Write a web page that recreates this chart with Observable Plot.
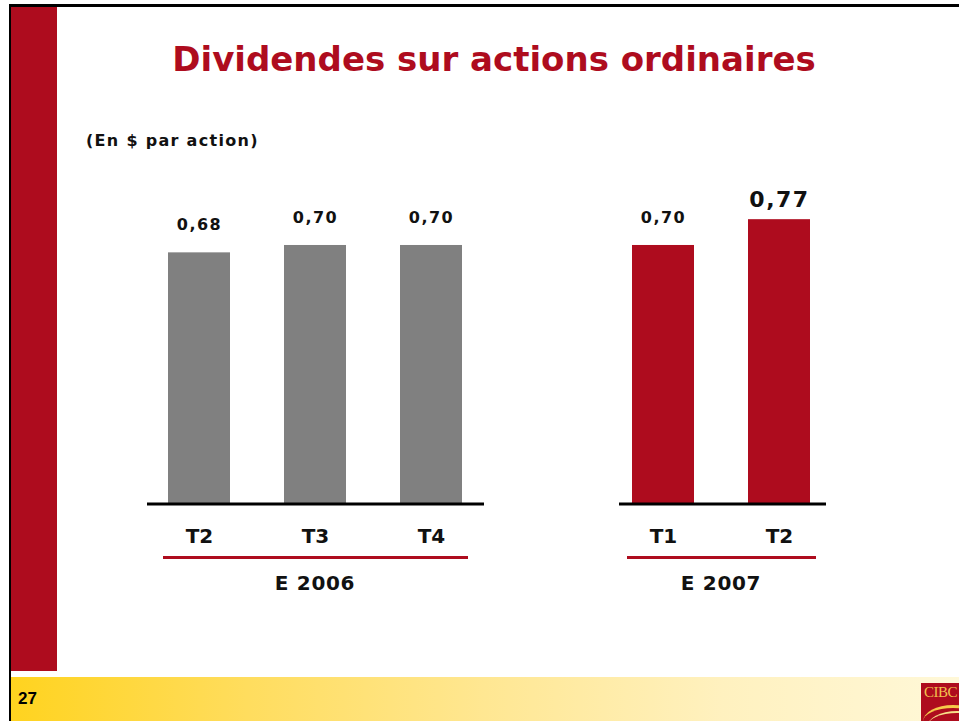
<!DOCTYPE html>
<html>
<head>
<meta charset="utf-8">
<script src="https://cdn.jsdelivr.net/npm/d3@7"></script>
<script src="https://cdn.jsdelivr.net/npm/@observablehq/plot@0.6"></script>
<style>
html, body { margin: 0; padding: 0; background: #fff; }
body { width: 959px; height: 721px; position: relative; overflow: hidden; font-family: "DejaVu Sans", Verdana, sans-serif; }
#topline { position: absolute; left: 9px; top: 4px; width: 950px; height: 3px; background: #000; }
#leftline { position: absolute; left: 9px; top: 4px; width: 2px; height: 717px; background: #000; }
#redbar { position: absolute; left: 11px; top: 7px; width: 46px; height: 664px; background: #AE0C1E; }
#footer { position: absolute; left: 11px; top: 677px; width: 948px; height: 44px;
  background: linear-gradient(90deg, #FFD31F 0%, #FFDD5E 25%, #FFE792 50%, #FFF1BF 75%, #FFF8D8 100%); }
#pagenum { position: absolute; left: 18px; top: 690px; font: bold 17px "Liberation Sans", Arial, sans-serif; color: #000; line-height: 17px; }
#logo { position: absolute; left: 921px; top: 683px; width: 44px; height: 38px; background: #AE0C1E; overflow: hidden; }
#logo span { position: absolute; left: 3px; top: 1px; font: 15px "Liberation Serif", serif; color: #F2C14E; letter-spacing: -0.5px; }
#logo .sw1 { position: absolute; left: 2px; top: 22px; width: 60px; height: 30px; border-top: 3px solid #F6C94A; border-radius: 50% 50% 0 0; }
#logo .sw2 { position: absolute; left: 6px; top: 28px; width: 60px; height: 30px; border-top: 2px solid #F8E08A; border-radius: 50% 50% 0 0; }
#title { position: absolute; left: 0; top: 42px; width: 988px; text-align: center; font: bold 34px/34px "DejaVu Sans", Verdana, sans-serif; color: #AE0C1E; }
#subtitle { position: absolute; left: 86px; top: 133px; font: bold 16px/16px "DejaVu Sans", Verdana, sans-serif; color: #111; letter-spacing: 1.3px; }
#chart { position: absolute; left: 0; top: 160px; }
</style>
</head>
<body>
<div id="topline"></div>
<div id="leftline"></div>
<div id="redbar"></div>
<div id="footer"></div>
<div id="pagenum">27</div>
<div id="logo"><span>CIBC</span><div class="sw1"></div><div class="sw2"></div></div>
<div id="title">Dividendes sur actions ordinaires</div>
<div id="subtitle">(En $ par action)</div>
<div id="chart"></div>
<script>
// ---- data ----
const quarters = ["T2", "T3", "T4", "T1", "T2"];
const fiscalYears = ["E 2006", "E 2006", "E 2006", "E 2007", "E 2007"];
const dividends = [0.68, 0.70, 0.70, 0.70, 0.77];
const yearLabels = ["E 2006", "E 2007"];
const yearColors = ["#808080", "#AE0C1E"];

// ---- derived tables ----
const rows = dividends.map((v, i) => ({
  key: fiscalYears[i] + "|" + quarters[i],
  quarter: quarters[i],
  year: fiscalYears[i],
  value: v
}));
const domain = [];
yearLabels.forEach((y, j) => {
  if (j > 0) domain.push("gap" + j);
  rows.filter(r => r.year === y).forEach(r => domain.push(r.key));
});
const groups = yearLabels.map(y => {
  const rs = rows.filter(r => r.year === y);
  return {year: y, first: rs[0].key, last: rs[rs.length - 1].key};
});
const quarterOf = new Map(rows.map(r => [r.key, r.quarter]));
const fmt = v => v.toFixed(2).replace(".", ",");
const latest = rows[rows.length - 1];
const red = "#AE0C1E";

// group labels centred under each group, through the x and y scales
function groupLabelMark(index, scales) {
  const x = scales.x, y = scales.y;
  const bw = typeof x.bandwidth === "function" ? x.bandwidth() : (x.bandwidth || 0);
  const g = d3.create("svg:g");
  for (const grp of groups) {
    const cx = (x(grp.first) + x(grp.last) + bw) / 2;
    g.append("text")
      .attr("x", cx)
      .attr("y", y(0) + 87)
      .attr("text-anchor", "middle")
      .attr("font-size", 20)
      .attr("font-weight", "bold")
      .attr("letter-spacing", "0.7px")
      .attr("fill", "#111")
      .text(grp.year);
  }
  return g.node();
}

const plot = Plot.plot({
  width: 959,
  height: 450,
  marginTop: 0,
  marginLeft: 0,
  marginRight: 0,
  marginBottom: 107,
  style: {fontFamily: "DejaVu Sans, Verdana, sans-serif", color: "#111", background: "transparent", overflow: "visible"},
  x: {type: "band", domain, range: [166.5, 811.5], paddingInner: 0.468, paddingOuter: 0, align: 0.5, axis: null},
  y: {domain: [0, 1], range: [343, 343 - 368.6], axis: null},
  color: {domain: yearLabels, range: yearColors},
  marks: [
    Plot.barY(rows, {x: "key", y: "value", fill: "year"}),
    Plot.ruleY([groups[0]], {x1: "first", x2: "last", y: 0, dy: 0.5, stroke: "#000", strokeWidth: 3, insetLeft: -21, insetRight: -22}),
    Plot.ruleY([groups[1]], {x1: "first", x2: "last", y: 0, dy: 0.5, stroke: "#000", strokeWidth: 3, insetLeft: -13, insetRight: -16}),
    Plot.ruleY(groups, {x1: "first", x2: "last", y: 0, dy: 54, stroke: red, strokeWidth: 3, insetLeft: -5, insetRight: -6}),
    Plot.text(rows.slice(0, -1), {x: "key", y: "value", text: d => fmt(d.value), dy: -28, fontSize: 16, fontWeight: "bold", fill: "#111"}),
    Plot.text([latest], {x: "key", y: "value", text: d => fmt(d.value), dy: -20, fontSize: 22, fontWeight: "bold", fill: "#111"}),
    Plot.axisX({tickSize: 0, tickPadding: 25, tickFormat: k => quarterOf.get(k) ?? "", fontSize: 20, fontWeight: "bold"}),
    groupLabelMark
  ]
});
document.getElementById("chart").appendChild(plot);
// wider digit spacing for value labels
plot.querySelectorAll('g[aria-label="text"] text').forEach(t => t.setAttribute("letter-spacing", "1.5px"));
</script>
</body>
</html>
